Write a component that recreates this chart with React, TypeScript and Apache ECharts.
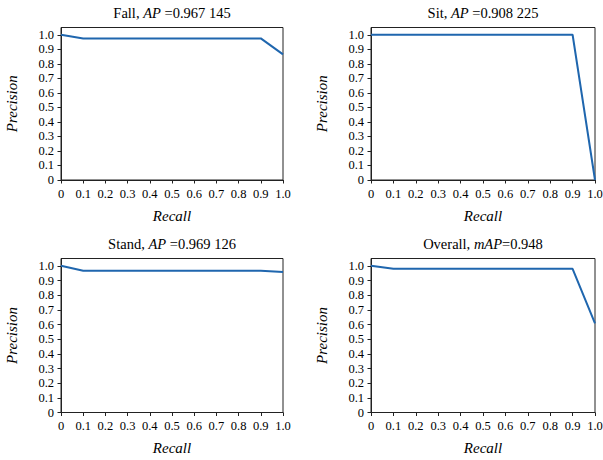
import React, { useEffect, useRef } from "react";
import * as echarts from "echarts";

const recall = [0, 0.1, 0.2, 0.3, 0.4, 0.5, 0.6, 0.7, 0.8, 0.9, 1.0];
const fallPrecision = [1.0, 0.975, 0.975, 0.975, 0.975, 0.975, 0.975, 0.975, 0.975, 0.975, 0.865];
const sitPrecision = [1.0, 1.0, 1.0, 1.0, 1.0, 1.0, 1.0, 1.0, 1.0, 1.0, 0.0];
const standPrecision = [1.0, 0.967, 0.967, 0.967, 0.967, 0.967, 0.967, 0.967, 0.967, 0.967, 0.958];
const overallPrecision = [1.0, 0.98, 0.98, 0.98, 0.98, 0.98, 0.98, 0.98, 0.98, 0.98, 0.608];
const tickValues = [0, 0.1, 0.2, 0.3, 0.4, 0.5, 0.6, 0.7, 0.8, 0.9, 1.0];

const titleParts: [string, string, string][] = [
  ["Fall, ", "AP", " =0.967 145"],
  ["Sit, ", "AP", " =0.908 225"],
  ["Stand, ", "AP", " =0.969 126"],
  ["Overall, ", "mAP", "=0.948"],
];
const seriesData = [fallPrecision, sitPrecision, standPrecision, overallPrecision];

const FONT = "Liberation Serif";
const LINE_COLOR = "#1f66ae";
const FRAME = "#222";

const panels = [
  { left: 61, top: 27.5, width: 222, height: 152.5 },
  { left: 371, top: 27.5, width: 224, height: 152.5 },
  { left: 61, top: 258.5, width: 222, height: 154 },
  { left: 371, top: 258.5, width: 224, height: 154 },
];

const fmt = (v: number) => (Math.abs(v) < 1e-9 ? "0" : v.toFixed(1));

export default function App() {
  const ref = useRef<HTMLDivElement>(null);
  useEffect(() => {
    if (!ref.current) return;
    const chart = echarts.init(ref.current, null, { renderer: "svg" });
    const grids = panels.map((p) => ({
      left: p.left,
      top: p.top,
      width: p.width,
      height: p.height,
      show: true,
      borderColor: FRAME,
      borderWidth: 1,
      backgroundColor: "transparent",
      containLabel: false,
      outerBoundsMode: "none",
    }));
    const xAxes = panels.map((_, i) => ({
      type: "value",
      gridIndex: i,
      min: 0,
      max: 1,
      interval: 0.1,
      name: "Recall",
      nameLocation: "middle",
      nameGap: 28,
      nameTextStyle: { fontFamily: FONT, fontSize: 15, fontStyle: "italic", color: "#000" },
      axisLine: { show: true, onZero: false, lineStyle: { color: FRAME, width: 1 } },
      axisTick: { show: true, inside: false, length: 3.5, lineStyle: { color: FRAME, width: 1 } },
      axisLabel: { show: true, margin: 7, fontFamily: FONT, fontSize: 12.5, color: "#000", formatter: fmt },
      splitLine: { show: false },
    }));
    const yAxes = panels.map((_, i) => ({
      type: "value",
      gridIndex: i,
      min: 0,
      max: 1.05,
      interval: 0.1,
      name: "Precision",
      nameLocation: "middle",
      nameGap: 42,
      nameTextStyle: { fontFamily: FONT, fontSize: 15, fontStyle: "italic", color: "#000" },
      axisLine: { show: true, onZero: false, lineStyle: { color: FRAME, width: 1 } },
      axisTick: { show: true, inside: false, length: 3.5, customValues: tickValues, lineStyle: { color: FRAME, width: 1 } },
      axisLabel: {
        show: true,
        margin: 7,
        fontFamily: FONT,
        fontSize: 12.5,
        color: "#000",
        customValues: tickValues,
        formatter: fmt,
      },
      splitLine: { show: false },
    }));
    const series = seriesData.map((vals, i) => ({
      type: "line",
      xAxisIndex: i,
      yAxisIndex: i,
      data: recall.map((r, k) => [r, vals[k]]),
      showSymbol: false,
      symbol: "none",
      lineStyle: { color: LINE_COLOR, width: 2 },
      clip: false,
    }));
    const graphics = panels.map((p, i) => ({
      type: "text",
      x: p.left + p.width / 2,
      y: p.top - 14.5,
      style: {
        text: `{n|${titleParts[i][0]}}{i|${titleParts[i][1]}}{n|${titleParts[i][2]}}`,
        align: "center",
        verticalAlign: "middle",
        rich: {
          n: { fontFamily: FONT, fontSize: 14.5, fill: "#000" },
          i: { fontFamily: FONT, fontSize: 14.5, fontStyle: "italic", fill: "#000" },
        },
      },
    }));
    chart.setOption({
      animation: false,
      backgroundColor: "#fff",
      textStyle: { fontFamily: FONT },
      grid: grids,
      xAxis: xAxes,
      yAxis: yAxes,
      series,
      graphic: graphics,
    } as any);
    return () => chart.dispose();
  }, []);
  return <div ref={ref} style={{ width: 603, height: 460, position: "absolute", left: 0, top: 0 }} />;
}
